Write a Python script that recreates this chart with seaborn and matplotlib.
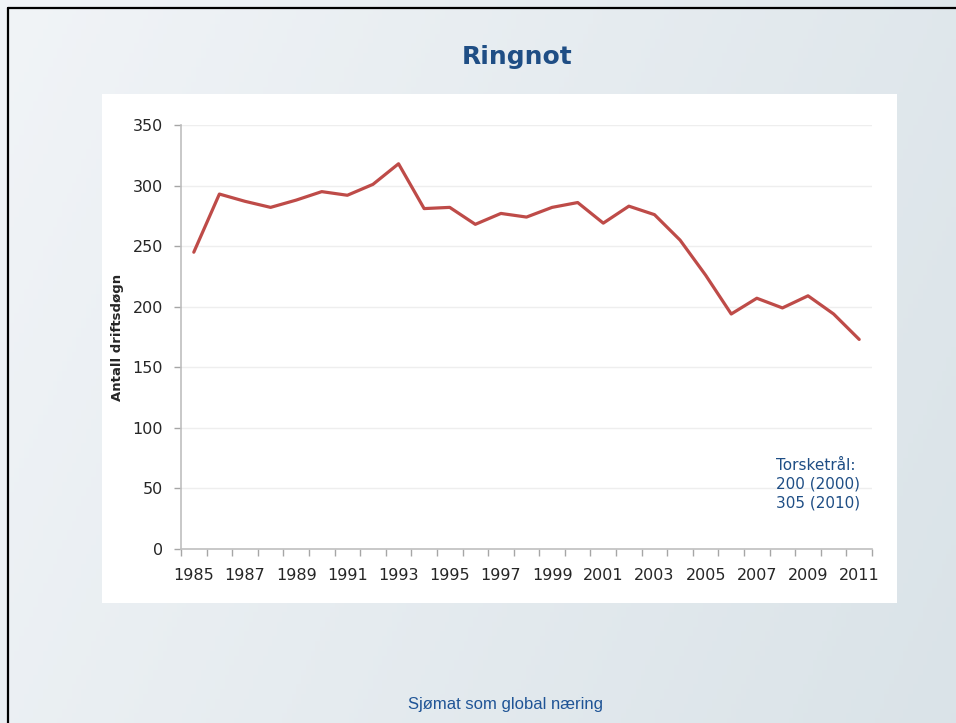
import matplotlib
matplotlib.use("Agg")
import numpy as np
import pandas as pd
import seaborn as sns
import matplotlib.pyplot as plt
from matplotlib.patches import Rectangle
from matplotlib.lines import Line2D

# Data
years = list(range(1985, 2012))
driftsdogn = [245, 293, 287, 282, 288, 295, 292, 301, 318, 281,
              282, 268, 277, 274, 282, 286, 269, 283, 276, 255,
              226, 194, 207, 199, 209, 194, 173]
year_labels = [str(y) for y in years[::2]]
y_ticks = [0, 50, 100, 150, 200, 250, 300, 350]

title = "Ringnot"
y_label = "Antall driftsdøgn"
note = "Torsketrål:\n200 (2000)\n305 (2010)"
footer = "Sjømat som global næring"

df = pd.DataFrame({"År": years, "Antall driftsdøgn": driftsdogn})

sns.set_style("white")
plt.rcParams["font.family"] = ["DejaVu Sans"]

W, H = 956, 723
fig = plt.figure(figsize=(W / 100, H / 100), dpi=100)

# slide background: soft gradient
bg = fig.add_axes([0, 0, 1, 1], zorder=-3)
gx = np.linspace(0, 1, 200)
gy = np.linspace(0, 1, 150)
GX, GY = np.meshgrid(gx, gy)
t = np.clip(0.75 * GX + 0.25 * GY, 0, 1)
c0 = np.array([0.945, 0.957, 0.969])
c1 = np.array([0.855, 0.890, 0.910])
img = c0[None, None, :] * (1 - t[..., None]) + c1[None, None, :] * t[..., None]
bg.imshow(img, extent=[0, 1, 0, 1], aspect="auto", origin="upper")
bg.axis("off")

# white chart panel
fig.patches.append(Rectangle((102 / W, (H - 603) / H), (897 - 102) / W, (603 - 94) / H,
                             transform=fig.transFigure, facecolor="white",
                             edgecolor="none", zorder=-2))

# slide frame (top and left)
fig.lines.append(Line2D([8 / W, 1], [1 - 8 / H, 1 - 8 / H], transform=fig.transFigure,
                        color="black", lw=1.6))
fig.lines.append(Line2D([8 / W, 8 / W], [0, 1 - 8 / H], transform=fig.transFigure,
                        color="black", lw=1.6))

ax = fig.add_axes([181 / W, 174 / H, 691 / W, 424 / H])
ax.set_facecolor("none")
sns.lineplot(data=df, x="År", y="Antall driftsdøgn", ax=ax,
             color="#BE4B48", linewidth=2.3)

ax.set_xlim(years[0] - 0.5, years[-1] + 0.5)
ax.set_ylim(y_ticks[0], y_ticks[-1])
ax.set_yticks(y_ticks)
ax.set_xticks(np.arange(years[0] - 0.5, years[-1] + 1, 1))
ax.set_xticks(years[::2], minor=True)
ax.set_xticklabels(year_labels, minor=True, fontsize=11.5)
ax.tick_params(axis="x", which="major", bottom=True, length=5, width=1,
               color="#A6A6A6", labelbottom=False)
ax.tick_params(axis="x", which="minor", bottom=True, length=0, pad=14, labelcolor="#262626")
ax.tick_params(axis="y", left=True, length=5, width=1, color="#A6A6A6", pad=8,
               labelsize=11.5, labelcolor="#262626")

ax.grid(axis="y", color="#EEEEEE", lw=1)
ax.set_axisbelow(True)
for s in ["top", "right"]:
    ax.spines[s].set_visible(False)
for s in ["left", "bottom"]:
    ax.spines[s].set_color("#BFBFBF")
    ax.spines[s].set_linewidth(1.2)

ax.set_xlabel("")
ax.set_ylabel(y_label, fontsize=9.5, fontweight="bold", labelpad=6)

fig.text(517 / W, 1 - 57 / H, title, ha="center", va="center",
         fontsize=18, fontweight="bold", color="#1F4E85")
fig.text(776 / W, 1 - 458 / H, note, ha="left", va="top",
         fontsize=11, color="#1F4E85", linespacing=1.3)
fig.text(505 / W, 1 - 704 / H, footer, ha="center", va="center",
         family="Liberation Sans", fontsize=12, color="#1F5496")

fig.savefig("out.png", dpi=100)
